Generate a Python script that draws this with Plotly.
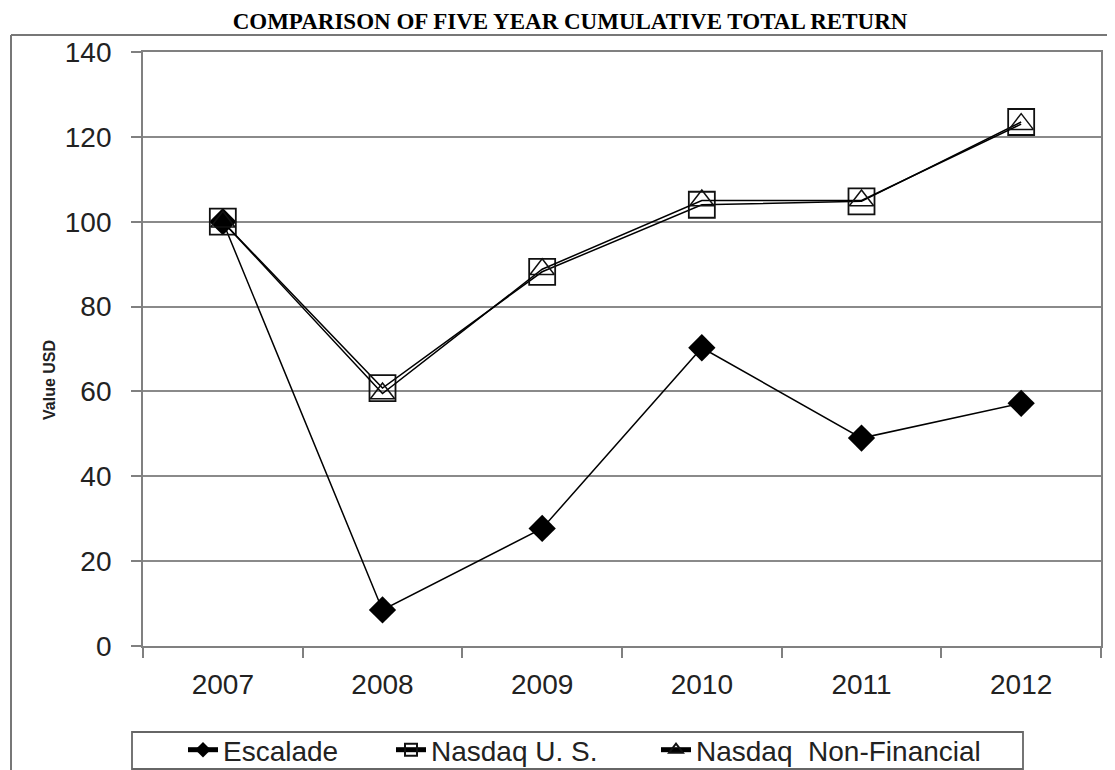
import plotly.graph_objects as go

years = ["2007", "2008", "2009", "2010", "2011", "2012"]
escalade = [100, 8.5, 27.7, 70.3, 49, 57.2]
nasdaq_us = [100, 60.8, 88.2, 104, 104.8, 123.5]
nasdaq_nonfin = [100, 59.5, 88.8, 105, 105, 123]
y_ticks = [0, 20, 40, 60, 80, 100, 120, 140]

W, H = 1115, 770
OFF = 8  # default page body margin
L, R, T, B = 143 - OFF, 1101 - OFF, 52 - OFF, 646 - OFF


def px_x(p):
    return (p - OFF - L) / (R - L)


def px_y(p):
    return (B - (p - OFF)) / (B - T)


fig = go.Figure()
fig.add_trace(go.Scatter(
    x=years, y=escalade, name="Escalade", mode="lines+markers", legend="legend",
    line=dict(color="black", width=1.5),
    marker=dict(symbol="diamond", size=21, color="black"),
))
fig.add_trace(go.Scatter(
    x=years, y=nasdaq_us, name="Nasdaq U. S.", mode="lines+markers", legend="legend2",
    line=dict(color="black", width=1.5),
    marker=dict(symbol="square-open", size=26, color="#111", line=dict(width=1.8)),
))
fig.add_trace(go.Scatter(
    x=years, y=nasdaq_nonfin, name="Nasdaq  Non-Financial", mode="lines+markers", legend="legend3",
    line=dict(color="black", width=1.5),
    marker=dict(symbol="triangle-up-open", size=21, color="#111", line=dict(width=1.5)),
))

leg_common = dict(orientation="h", yanchor="middle", xanchor="left",
                  borderwidth=0, bgcolor="rgba(0,0,0,0)", itemsizing="constant",
                  font=dict(size=28, color="#222"))
leg_y = px_y(750)

fig.update_layout(
    width=W, height=H,
    margin=dict(l=L, r=W - R, t=T, b=H - B, autoexpand=False),
    paper_bgcolor="white", plot_bgcolor="white",
    font=dict(family="Liberation Sans, Arial", color="#222"),
    title=dict(text="<b>COMPARISON OF FIVE YEAR CUMULATIVE TOTAL RETURN</b>",
               x=(570 - OFF) / W, xanchor="center", y=1 - (21 - OFF) / H, yanchor="middle",
               font=dict(family="Liberation Serif, Times New Roman", size=23, color="black")),
    showlegend=True,
    legend=dict(x=px_x(183), y=leg_y, **leg_common),
    legend2=dict(x=px_x(391), y=leg_y, **leg_common),
    legend3=dict(x=px_x(656), y=leg_y, **leg_common),
    xaxis=dict(type="category", range=[-0.5, 5.5], tickson="boundaries",
               ticks="outside", ticklen=10, tickcolor="#808080", tickwidth=1.5,
               ticklabelstandoff=12,
               showline=True, linecolor="#808080", linewidth=1.8, mirror=True,
               showgrid=False, tickfont=dict(size=28, color="#222"), fixedrange=True),
    yaxis=dict(range=[0, 140], tickvals=y_ticks, ticks="outside", ticklen=10,
               tickcolor="#808080", tickwidth=1.5, ticklabelstandoff=14,
               showline=True, linecolor="#808080", linewidth=1.8, mirror=True,
               showgrid=True, gridcolor="#8a8a8a", gridwidth=1.8,
               zeroline=False, tickfont=dict(size=28, color="#222")),
    annotations=[
        dict(text="<b>Value USD</b>", xref="paper", yref="paper",
             x=px_x(50), y=px_y(380), xanchor="center", yanchor="middle",
             textangle=-90, showarrow=False, font=dict(size=16, color="#222")),
    ],
    shapes=[
        dict(type="line", xref="paper", yref="paper", x0=px_x(11), x1=px_x(11),
             y0=px_y(35), y1=px_y(780), line=dict(color="#777", width=2)),
        dict(type="line", xref="paper", yref="paper", x0=px_x(11), x1=px_x(1125),
             y0=px_y(35), y1=px_y(35), line=dict(color="#777", width=2)),
        dict(type="rect", xref="paper", yref="paper", x0=px_x(132), x1=px_x(1023),
             y0=px_y(732), y1=px_y(769), line=dict(color="#666", width=1.8)),
    ],
)

fig.write_html("out.html")
